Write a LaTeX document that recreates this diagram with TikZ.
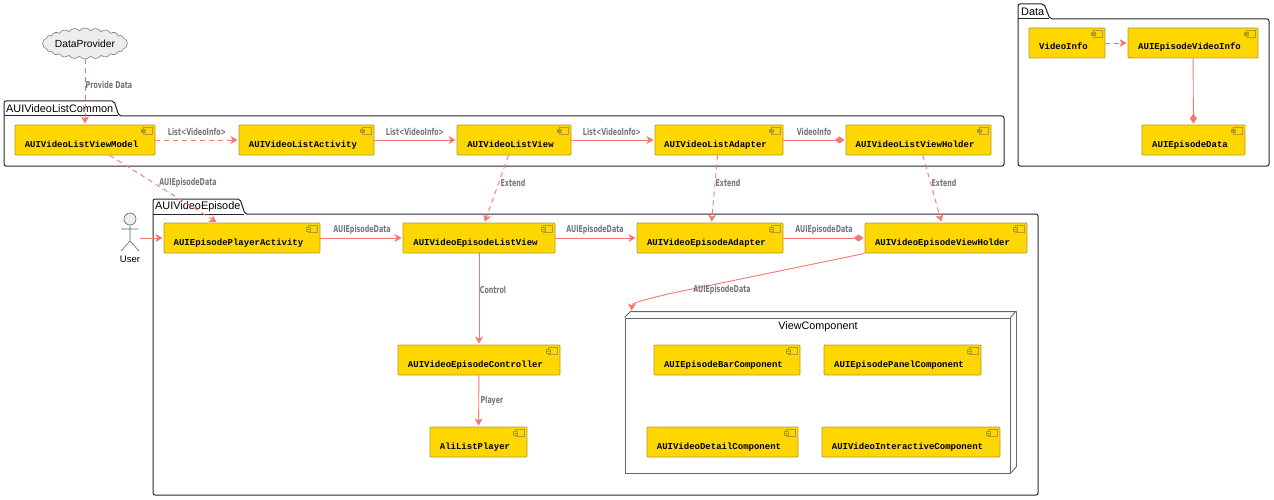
\documentclass[tikz,border=0pt]{standalone}
\usepackage{fontspec}
\usetikzlibrary{arrows.meta,shapes.symbols}
\setmainfont{Liberation Sans}
\newfontfamily\compfont{Liberation Mono}
\newfontfamily\tagfont[FakeStretch=0.67]{DejaVu Sans}
\definecolor{compfill}{HTML}{FFD700}
\definecolor{compline}{HTML}{B59B2A}
\definecolor{linkline}{HTML}{F6776F}
\definecolor{taggray}{HTML}{74747C}
\newcommand{\ctext}[1]{\smash{\raisebox{-7pt}{#1}}\kern7pt}
\begin{document}
\begin{tikzpicture}[x=1pt,y=-1pt,shorten >=1pt]
        \tikzstyle{comp}=[rectangle,rounded corners=1pt,draw=compline,line width=0.9pt,fill=compfill,minimum height=30pt,inner sep=0pt,font=\compfont\bfseries\fontsize{9}{9}\selectfont]
        \tikzstyle{edge}=[color=linkline,line width=0.9pt,-{Stealth[inset=2pt,length=7pt,width=8pt]}]
        \tikzstyle{dashedge}=[edge,dash pattern=on 5pt off 4pt]
        \tikzstyle{comppos}=[color=linkline,line width=0.9pt,-{Diamond[length=10pt,width=7pt]}]
        \tikzstyle{tag}=[font=\tagfont\bfseries\fontsize{9.5}{10}\selectfont,text=taggray,inner sep=0pt]
        \tikzstyle{pkg}=[draw=black!85,line width=1pt,rounded corners=2pt]
        \tikzstyle{pkgname}=[font=\fontsize{10.9}{11}\selectfont,inner sep=0pt,anchor=west]
        \tikzstyle{icon}=[draw=compline,line width=0.7pt,fill=compfill]
        \tikzstyle{stick}=[draw=black!60,line width=0.6pt]

        % packages
        \draw[pkg] (4,116) -- (4,101) -- (114,101) -- (119,116) -- (1004,116) -- (1004,166) -- (4,166) -- cycle;
        \draw[pkg] (4,116) -- (119,116);
        \node[pkgname] (pcommon) at (6,108.5) {AUIVideoListCommon};
        \draw[pkg] (153,214) -- (153,199) -- (240,199) -- (245,214) -- (1038,214) -- (1038,495) -- (153,495) -- cycle;
        \draw[pkg] (153,214) -- (245,214);
        \node[pkgname] (pepisode) at (155,206.5) {AUIVideoEpisode};
        \draw[pkg] (1018,19) -- (1018,4) -- (1044,4) -- (1050,19) -- (1269,19) -- (1269,166) -- (1018,166) -- cycle;
        \draw[pkg] (1018,19) -- (1050,19);
        \node[pkgname] (pdata) at (1021,11.5) {Data};

        % view component box
        \node[rectangle,draw=black!60,line width=0.9pt,minimum width=385pt,minimum height=155pt,inner sep=0pt] (view) at (817.5,395.5) {};
        \draw[draw=black!60,line width=0.9pt] (view.north west) -- ++(6,-6) -- ++(385,0) -- (view.north east) (view.north east) ++(6,-6) -- ++(0,155) -- (view.south east);
        \node[font=\fontsize{10.8}{11}\selectfont,inner sep=0pt] (viewname) at (818,327) {ViewComponent};

        \node[cloud,cloud puffs=24,cloud puff arc=110,cloud ignores aspect,draw=black!50,line width=0.6pt,fill=black!7,minimum width=81pt,minimum height=31pt,inner sep=0pt,font=\fontsize{10.3}{10}\selectfont] (provider) at (85,43.5) {DataProvider};

        \node [comp,minimum width=140pt] (lvm) at (85,140) {\ctext{AUIVideoListViewModel}};
        \node [comp,minimum width=135pt] (lac) at (306.5,140) {\ctext{AUIVideoListActivity}};
        \node [comp,minimum width=114pt] (lvw) at (514,140) {\ctext{AUIVideoListView}};
        \node [comp,minimum width=128pt] (lad) at (719,140) {\ctext{AUIVideoListAdapter}};
        \node [comp,minimum width=145pt] (lvh) at (918.5,140) {\ctext{AUIVideoListViewHolder}};

        \node [comp,minimum width=156pt] (epa) at (242,238) {\ctext{AUIEpisodePlayerActivity}};
        \node [comp,minimum width=152pt] (elv) at (479,238) {\ctext{AUIVideoEpisodeListView}};
        \node [comp,minimum width=146pt] (ead) at (710,238) {\ctext{AUIVideoEpisodeAdapter}};
        \node [comp,minimum width=162pt] (evh) at (946,238) {\ctext{AUIVideoEpisodeViewHolder}};
        \node [comp,minimum width=162pt] (ect) at (479,360) {\ctext{AUIVideoEpisodeController}};
        \node [comp,minimum width=97pt] (alp) at (478.5,442) {\ctext{AliListPlayer}};

        \node [comp,minimum width=146pt] (bar) at (727,360) {\ctext{AUIEpisodeBarComponent}};
        \node [comp,minimum width=157pt] (pan) at (902.5,360) {\ctext{AUIEpisodePanelComponent}};
        \node [comp,minimum width=151pt] (det) at (722.5,442) {\ctext{AUIVideoDetailComponent}};
        \node [comp,minimum width=178pt] (int) at (911,442) {\ctext{AUIVideoInteractiveComponent}};

        \node [comp,minimum width=76pt] (vin) at (1067,43) {\ctext{VideoInfo}};
        \node [comp,minimum width=130pt] (evi) at (1193,43) {\ctext{AUIEpisodeVideoInfo}};
        \node [comp,minimum width=103pt] (edt) at (1193.5,140) {\ctext{AUIEpisodeData}};

        \foreach \n in {lvm,lac,lvw,lad,lvh,epa,elv,ead,evh,ect,alp,bar,pan,det,int,vin,evi,edt} {
          \draw[icon] ([xshift=-12pt,yshift=-3pt]\n.north east) rectangle ([xshift=-3pt,yshift=-10pt]\n.north east);
          \draw[icon] ([xshift=-14pt,yshift=-5pt]\n.north east) rectangle ([xshift=-10pt,yshift=-6.3pt]\n.north east);
          \draw[icon] ([xshift=-14pt,yshift=-7pt]\n.north east) rectangle ([xshift=-10pt,yshift=-8.3pt]\n.north east);
        }

        % user
        \node[circle,draw=black!60,line width=0.6pt,fill=black!7,minimum size=12pt,inner sep=0pt] (uhead) at (130,219) {};
        \node[font=\fontsize{9.5}{10}\selectfont,inner sep=0pt] (user) at (130,259) {User};
        \coordinate (uhip) at (130,241);
        \coordinate (uarm) at (140,238);
        \draw[stick] (uhead) -- (uhip) -- (121,251) (uhip) -- (139,251) (121,229) -- (139,229);

        \path (provider) edge[dashedge] (lvm);
        \path (lvm) edge[dashedge] (lac);
        \path (lac) edge[edge] (lvw);
        \path (lvw) edge[edge] (lad);
        \path (lad) edge[comppos] (lvh);
        \path (lvm) edge[dashedge] (epa);
        \path (lvw) edge[dashedge] (elv);
        \path (lad) edge[dashedge] (ead);
        \path (lvh) edge[dashedge] (evh);
        \path (uarm) edge[edge] (epa);
        \path (epa) edge[edge] (elv);
        \path (elv) edge[edge] (ead);
        \path (ead) edge[comppos] (evh);
        \path (elv) edge[edge] (ect);
        \path (ect) edge[edge] (alp);
        \path (vin) edge[dashedge] (evi);
        \path (evi) edge[comppos] (edt);
        \coordinate (vbend) at (668,294);
        \draw[edge] (evh.south west) -- (vbend) .. controls (640,301) and (632,303) .. ([xshift=7pt,yshift=6pt]view.north west);

        \node[tag] (t1) at (109,85) {Provide Data};
        \node[tag] (t2) at (197,132) {List<VideoInfo>};
        \node[tag] (t3) at (415,132) {List<VideoInfo>};
        \node[tag] (t4) at (612,132) {List<VideoInfo>};
        \node[tag] (t5) at (814,132) {VideoInfo};
        \node[tag] (t6) at (188,183) {AUIEpisodeData};
        \node[tag] (t7) at (513,183) {Extend};
        \node[tag] (t8) at (728,183) {Extend};
        \node[tag] (t9) at (944,183) {Extend};
        \node[tag] (t10) at (362,230) {AUIEpisodeData};
        \node[tag] (t11) at (595,230) {AUIEpisodeData};
        \node[tag] (t12) at (824,230) {AUIEpisodeData};
        \node[tag] (t13) at (493,290) {Control};
        \node[tag] (t14) at (492,401) {Player};
        \node[tag] (t15) at (722,290) {AUIEpisodeData};
        \useasboundingbox (0,0) rectangle (1274,500);
\end{tikzpicture}
\end{document}
